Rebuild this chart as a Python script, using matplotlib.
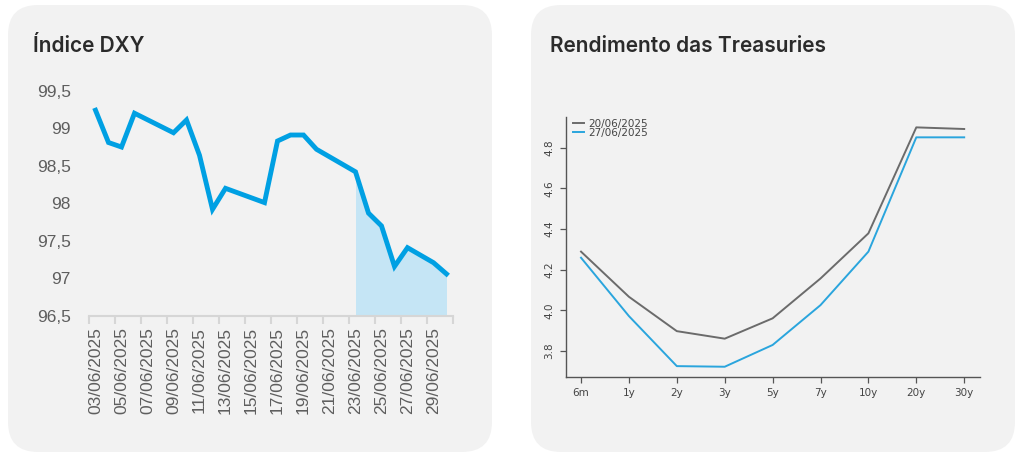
import numpy as np
import matplotlib.pyplot as plt
from matplotlib.patches import FancyBboxPatch
from matplotlib.transforms import IdentityTransform

# DXY daily closes (June 2025)
dxy_days = [3, 4, 5, 6, 9, 10, 11, 12, 13, 16, 17, 18, 19, 20, 23, 24, 25, 26, 27, 29, 30]
dxy_vals = [99.24, 98.81, 98.75, 99.20, 98.94, 99.11, 98.64, 97.92, 98.20, 98.01,
            98.83, 98.91, 98.91, 98.72, 98.42, 97.87, 97.70, 97.16, 97.41, 97.21, 97.06]
date_labels = ["%02d/06/2025" % d for d in range(3, 31)]

# Treasury curve
tenors = ["6m", "1y", "2y", "3y", "5y", "7y", "10y", "20y", "30y"]
y_2006 = [4.289, 4.067, 3.898, 3.861, 3.961, 4.157, 4.379, 4.900, 4.892]
y_2706 = [4.259, 3.972, 3.726, 3.723, 3.830, 4.026, 4.289, 4.851, 4.851]

fig = plt.figure(figsize=(10.24, 4.55), dpi=100)
fig.patch.set_facecolor("white")

# rounded panels (pixel coords)
for x0 in (8, 531):
    p = FancyBboxPatch((x0, 3), 484, 447, boxstyle="round,pad=0,rounding_size=30",
                       transform=IdentityTransform(), facecolor="#f2f2f2",
                       edgecolor="none", zorder=0)
    fig.add_artist(p)

fig.text(33 / 1024, 1 - 52 / 455, "Índice DXY", fontsize=15, fontweight="semibold",
         color="#2b2b2b", family="Inter")
fig.text(550 / 1024, 1 - 52 / 455, "Rendimento das Treasuries", fontsize=15,
         fontweight="semibold", color="#2b2b2b", family="Inter")

# ---- left chart
ax = fig.add_axes([89 / 1024, 139 / 455, 364 / 1024, 225.3 / 455])
ax.set_facecolor("none")
xpos = np.array(dxy_days) - 3
vals = np.array(dxy_vals)
ax.plot(xpos, vals, color="#00a0e3", lw=3.5, solid_joinstyle="miter", zorder=3, clip_on=False)
m = xpos >= 20
ax.fill_between(xpos[m], 96.5, vals[m], color="#c5e5f5", lw=0, zorder=2)
ax.fill_between([0, 20], 96.5, 96.515, color="#c5e5f5", lw=0, zorder=2)
ax.set_xlim(-0.5, 27.5)
ax.set_ylim(96.5, 99.5)
for s in ["top", "right", "left"]:
    ax.spines[s].set_visible(False)
ax.spines["bottom"].set_color("#d6d6d6")
ax.spines["bottom"].set_linewidth(1.5)
ax.set_yticks([96.5, 97, 97.5, 98, 98.5, 99, 99.5])
ax.set_yticklabels(["96,5", "97", "97,5", "98", "98,5", "99", "99,5"])
ax.tick_params(axis="y", length=0, pad=13, labelsize=12.5, labelcolor="#5e5e5e")
ax.set_xticks(np.arange(-0.5, 28, 2))
ax.set_xticklabels([])
ax.tick_params(axis="x", which="major", length=6, width=1.5, color="#d6d6d6")
ax.set_xticks(np.arange(0, 28, 2), minor=True)
ax.set_xticklabels(date_labels[::2], minor=True, rotation=90)
ax.tick_params(axis="x", which="minor", length=0, pad=8, labelsize=12.5, labelcolor="#5e5e5e")
for t in ax.get_xticklabels(minor=True) + ax.get_yticklabels():
    t.set_family("Liberation Sans")

# ---- right chart
ax2 = fig.add_axes([565.7 / 1024, 78.3 / 455, 414.3 / 1024, 259.7 / 455])
ax2.set_facecolor("none")
xi = np.arange(len(tenors))
ax2.plot(xi, y_2006, color="#6b6b6b", lw=1.4, label="20/06/2025")
ax2.plot(xi, y_2706, color="#2aa5dd", lw=1.4, label="27/06/2025")
ax2.set_xlim(-0.32, 8.33)
ax2.set_ylim(3.674, 4.951)
for s in ["top", "right"]:
    ax2.spines[s].set_visible(False)
for s in ["left", "bottom"]:
    ax2.spines[s].set_color("#555555")
    ax2.spines[s].set_linewidth(1.0)
ax2.set_xticks(xi)
ax2.set_xticklabels(tenors)
ax2.set_yticks([3.8, 4.0, 4.2, 4.4, 4.6, 4.8])
ax2.set_yticklabels(["3.8", "4.0", "4.2", "4.4", "4.6", "4.8"], rotation=90, va="center")
ax2.tick_params(length=4, width=0.9, color="#555555", labelsize=7.5, labelcolor="#444444", pad=4)
leg = ax2.legend(loc="upper left", bbox_to_anchor=(0.0, 1.02), frameon=False, fontsize=7.5,
                 handlelength=1.1, handletextpad=0.4, labelspacing=-0.1, borderaxespad=0.3)
for t in leg.get_texts():
    t.set_color("#444444")

fig.savefig("out.png", dpi=100)
